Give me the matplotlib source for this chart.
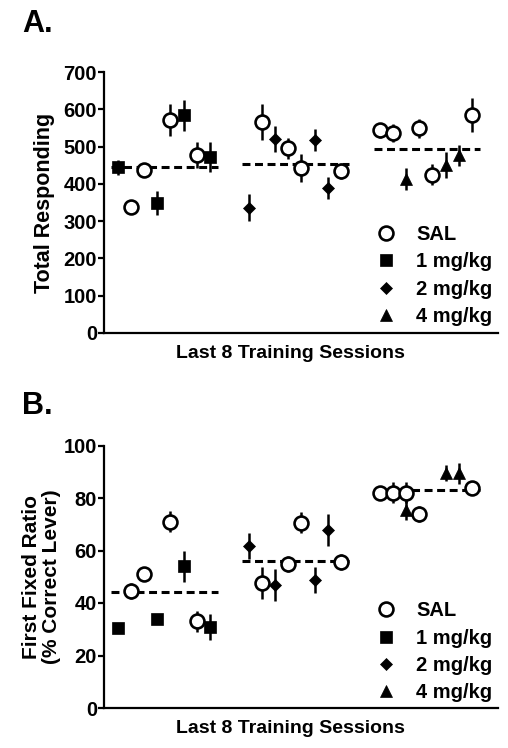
import matplotlib
matplotlib.use("Agg")
import matplotlib.pyplot as plt
from matplotlib.lines import Line2D

plt.rcParams['font.family'] = ['Liberation Sans', 'DejaVu Sans']
plt.rcParams['font.weight'] = 'bold'

# ---------------- data ----------------
group_starts = [1, 11, 21]
group_ends = [8, 18, 28]

# Panel A: Total Responding
a_sal_x = [2, 3, 5, 7, 12, 14, 15, 18, 21, 22, 24, 25, 28]
a_sal_y = [338, 437, 571, 477, 566, 496, 442, 434, 544, 536, 549, 424, 584]
a_sal_e = [12, 15, 42, 35, 48, 28, 38, 22, 20, 25, 25, 28, 45]
a_1mg_x = [1, 4, 6, 8]
a_1mg_y = [445, 349, 584, 473]
a_1mg_e = [20, 33, 42, 40]
a_2mg_x = [11, 13, 16, 17]
a_2mg_y = [336, 520, 517, 389]
a_2mg_e = [36, 35, 30, 30]
a_4mg_x = [23, 26, 27]
a_4mg_y = [413, 450, 477]
a_4mg_e = [30, 35, 28]
a_means = [446, 453, 493]

# Panel B: First Fixed Ratio (% Correct Lever)
b_sal_x = [2, 3, 5, 7, 12, 14, 15, 18, 21, 22, 23, 24, 28]
b_sal_y = [44.7, 51, 71, 33, 47.7, 54.9, 70.6, 55.7, 82, 82, 82, 73.8, 84]
b_sal_e = [3, 2, 4, 4, 6, 3, 4, 3, 2, 4, 4, 3, 1]
b_1mg_x = [1, 4, 6, 8]
b_1mg_y = [30.5, 34, 54, 31]
b_1mg_e = [2, 2, 6, 5]
b_2mg_x = [11, 13, 16, 17]
b_2mg_y = [61.8, 46.9, 48.8, 67.8]
b_2mg_e = [5, 6, 5, 6]
b_4mg_x = [23, 26, 27]
b_4mg_y = [75.5, 89.5, 89.5]
b_4mg_e = [4, 3, 4]
b_means = [44.2, 56.1, 83]

legend_labels = ['SAL', '1 mg/kg', '2 mg/kg', '4 mg/kg']
xlabel = 'Last 8 Training Sessions'

# ---------------- drawing ----------------
W, H = 508, 748
fig = plt.figure(figsize=(W / 100, H / 100), dpi=100)

FS = 14.5
LW = 1.6

def px_axes(left, top, right, bottom):
    return fig.add_axes([left / W, 1 - bottom / H, (right - left) / W, (bottom - top) / H])

styles = [
    dict(marker='o', ms=10, mfc='white', mec='black', mew=1.9),
    dict(marker='s', ms=8, mfc='black', mec='black', mew=0.5),
    dict(marker='D', ms=6.2, mfc='black', mec='black', mew=0.5),
    dict(marker='^', ms=8.5, mfc='black', mec='black', mew=0.5),
]

def panel(ax, series, means, ymax, ystep, ylabel, ylabel_x, ylabel_fs, leg_y):
    for (x, y, e), st in zip(series, styles):
        ax.errorbar(x, y, yerr=e, fmt='none', ecolor='black', elinewidth=1.8,
                    capsize=0, zorder=2)
        ax.plot(x, y, linestyle='none', zorder=3, **st)
    for g0, g1, m in zip(group_starts, group_ends, means):
        ax.plot([g0 - 0.5, g1 + 0.6], [m, m], color='black', lw=2.2,
                linestyle=(0, (2.6, 1.5)), zorder=1)
    ax.set_xlim(-0.07, 30.0)
    ax.set_ylim(0, ymax)
    ax.set_yticks(range(0, ymax + 1, ystep))
    ax.set_xticks([])
    for s in ['top', 'right']:
        ax.spines[s].set_visible(False)
    for s in ['left', 'bottom']:
        ax.spines[s].set_linewidth(LW)
    ax.tick_params(axis='y', direction='out', length=4, width=LW,
                   labelsize=FS, pad=1)
    for t in ax.get_yticklabels():
        t.set_fontweight('bold')
    ax.set_xlabel(xlabel, fontsize=14, fontweight='bold')
    ax.xaxis.set_label_coords(0.472, -0.045)
    ax.xaxis.label.set_va('top')
    ax.set_ylabel(ylabel, fontsize=ylabel_fs, fontweight='bold',
                  linespacing=1.05)
    ax.yaxis.set_label_coords(ylabel_x, 0.5)
    handles = [Line2D([], [], linestyle='none', **st) for st in styles]
    ax.legend(handles, legend_labels, loc='lower left',
              bbox_to_anchor=(0.66, leg_y), frameon=False,
              prop=dict(weight='bold', size=FS), handlelength=1.0,
              handletextpad=1.0, labelspacing=0.42, borderaxespad=0.2)

axA = px_axes(104, 72, 498, 333)
panel(axA,
      [(a_sal_x, a_sal_y, a_sal_e), (a_1mg_x, a_1mg_y, a_1mg_e),
       (a_2mg_x, a_2mg_y, a_2mg_e), (a_4mg_x, a_4mg_y, a_4mg_e)],
      a_means, 700, 100, 'Total Responding', -0.125, 15.5, -0.02)

axB = px_axes(104, 445.5, 498, 708)
panel(axB,
      [(b_sal_x, b_sal_y, b_sal_e), (b_1mg_x, b_1mg_y, b_1mg_e),
       (b_2mg_x, b_2mg_y, b_2mg_e), (b_4mg_x, b_4mg_y, b_4mg_e)],
      b_means, 100, 20, 'First Fixed Ratio\n(% Correct Lever)', -0.11, 15, -0.025)

fig.text(22 / W, 1 - 32 / H, 'A.', fontsize=22, fontweight='bold', va='baseline')
fig.text(22 / W, 1 - 414 / H, 'B.', fontsize=22, fontweight='bold', va='baseline')

fig.savefig('out.png', dpi=100)
